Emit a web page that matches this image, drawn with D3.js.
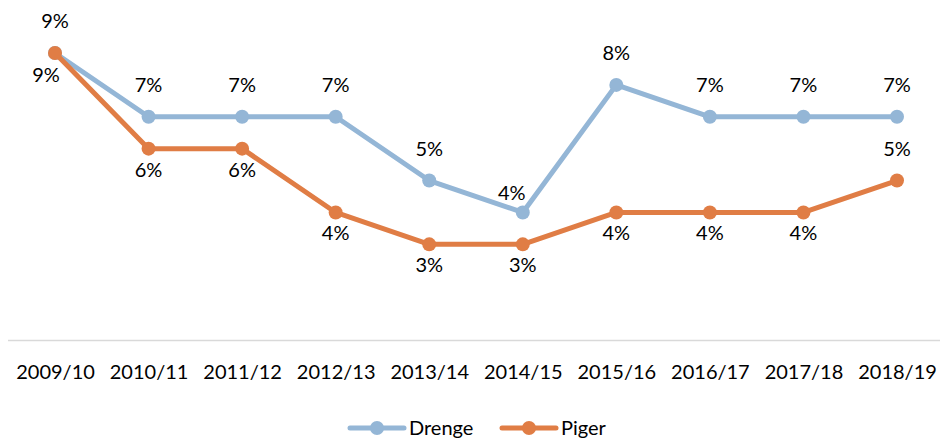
<!DOCTYPE html>
<html><head><meta charset="utf-8">
<script src="https://cdn.jsdelivr.net/npm/d3@7"></script>
<style>body{margin:0;background:#fff}svg{display:block}text{font-family:Lato,"Open Sans",sans-serif;fill:#000}</style>
</head><body><svg id="c" width="940" height="441"></svg>
<script>
const categories=["2009/10","2010/11","2011/12","2012/13","2013/14","2014/15","2015/16","2016/17","2017/18","2018/19"];
const drenge=[9,7,7,7,5,4,8,7,7,7];
const piger=[9,6,6,4,3,3,4,4,4,5];
const seriesNames=["Drenge","Piger"];
const colors=["#94B6D6","#E07D45"];

const svg=d3.select("#c");
const x=d3.scalePoint().domain(categories).range([55,897]);
const y=d3.scaleLinear().domain([0,9]).range([340,53]);
const FS=20;

svg.append("line").attr("x1",8).attr("x2",940).attr("y1",340.5).attr("y2",340.5).attr("stroke","#D9D9D9").attr("stroke-width",1.5);
const ax=svg.append("g").attr("transform","translate(0,340)").call(d3.axisBottom(x).tickSize(0).tickPadding(25));
ax.select(".domain").remove();
ax.selectAll("text").attr("font-size",FS).attr("font-family","Lato,'Open Sans',sans-serif").attr("fill","#000");

const data=[drenge,piger];
const line=d3.line().x((d,i)=>x(categories[i])).y(d=>y(d));
[0,1].forEach(s=>{
  const g=svg.append("g");
  g.append("path").attr("d",line(data[s])).attr("fill","none").attr("stroke",colors[s]).attr("stroke-width",5).attr("stroke-linejoin","round");
  g.selectAll("circle").data(data[s]).join("circle").attr("cx",(d,i)=>x(categories[i])).attr("cy",d=>y(d)).attr("r",7).attr("fill",colors[s]);
});
// label placement: default above for Drenge, below for Piger, with a few adjustments as in original
function labelPos(s,i){
  let dx=0, dy = s===0 ? -25 : 28;
  if(s===0 && i===5){dx=-11; dy=-12;}
  if(s===1 && i===0){dx=-9; dy=29;}
  if(s===1 && i===categories.length-1){dy=-25;}
  return [dx,dy];
}
[0,1].forEach(s=>{
  svg.append("g").selectAll("text").data(data[s]).join("text")
    .attr("x",(d,i)=>x(categories[i])+labelPos(s,i)[0]).attr("y",(d,i)=>y(d)+labelPos(s,i)[1])
    .attr("text-anchor","middle").attr("font-size",FS).text(d=>d+"%");
});

// legend
const lg=svg.append("g").attr("transform","translate(0,428)");
const items=[{x:350,name:seriesNames[0],c:colors[0]},{x:502,name:seriesNames[1],c:colors[1]}];
items.forEach(it=>{
  lg.append("line").attr("x1",it.x).attr("x2",it.x+54).attr("y1",0).attr("y2",0).attr("stroke",it.c).attr("stroke-width",5).attr("stroke-linecap","round");
  lg.append("circle").attr("cx",it.x+27).attr("cy",0).attr("r",7).attr("fill",it.c);
  lg.append("text").attr("x",it.x+59).attr("y",6.5).attr("font-size",FS).text(it.name);
});
</script></body></html>
